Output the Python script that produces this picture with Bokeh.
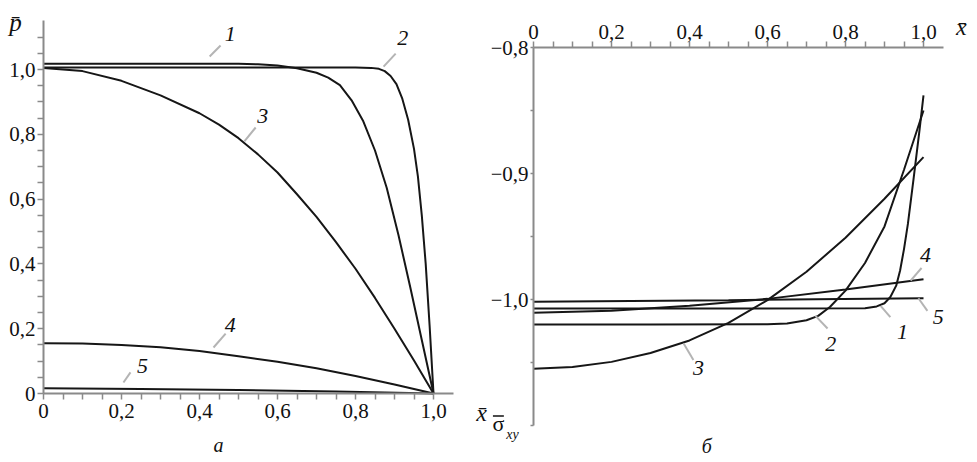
from bokeh.plotting import figure
from bokeh.layouts import row
from bokeh.models import Label, FixedTicker, CustomJSTickFormatter, Range1d, LinearAxis
from bokeh.embed import file_html
from bokeh.resources import INLINE

# ---------------- data: panel a (p-bar vs x-bar) ----------------
a1_x = [0, 0.2, 0.4, 0.5, 0.55, 0.6, 0.65, 0.7, 0.73, 0.76, 0.79, 0.82, 0.85, 0.88, 0.91, 0.94, 0.97, 1.0]
a1_y = [1.018, 1.018, 1.018, 1.018, 1.016, 1.012, 1.004, 0.99, 0.975, 0.952, 0.905, 0.84, 0.75, 0.635, 0.49, 0.33, 0.165, 0.0]
a2_x = [0, 0.4, 0.8, 0.84, 0.86, 0.875, 0.89, 0.905, 0.92, 0.935, 0.95, 0.96, 0.97, 0.98, 0.99, 1.0]
a2_y = [1.006, 1.006, 1.006, 1.005, 1.002, 0.995, 0.98, 0.955, 0.91, 0.845, 0.755, 0.67, 0.55, 0.4, 0.21, 0.0]
a3_x = [0, 0.1, 0.2, 0.3, 0.4, 0.45, 0.5, 0.55, 0.6, 0.65, 0.7, 0.75, 0.8, 0.85, 0.9, 0.95, 1.0]
a3_y = [1.005, 0.995, 0.965, 0.92, 0.865, 0.83, 0.788, 0.738, 0.682, 0.615, 0.545, 0.467, 0.385, 0.295, 0.2, 0.102, 0.0]
a4_x = [0, 0.1, 0.2, 0.3, 0.4, 0.5, 0.6, 0.7, 0.8, 0.9, 1.0]
a4_y = [0.155, 0.154, 0.150, 0.143, 0.131, 0.115, 0.098, 0.078, 0.054, 0.028, 0.0]
a5_x = [0, 0.25, 0.5, 0.75, 1.0]
a5_y = [0.016, 0.014, 0.011, 0.006, 0.0]

# ---------------- data: panel b (sigma_xy vs x-bar) ----------------
b1_x = [0, 0.5, 0.85, 0.88, 0.9, 0.915, 0.93, 0.94, 0.95, 0.96, 0.975, 0.99, 1.0]
b1_y = [-1.0072, -1.0072, -1.007, -1.0055, -1.003, -0.998, -0.989, -0.977, -0.96, -0.94, -0.903, -0.865, -0.838]
b2_x = [0, 0.3, 0.6, 0.65, 0.7, 0.73, 0.76, 0.8, 0.85, 0.9, 0.95, 1.0]
b2_y = [-1.0198, -1.0198, -1.0196, -1.019, -1.0165, -1.013, -1.006, -0.993, -0.971, -0.942, -0.897, -0.85]
b3_x = [0, 0.1, 0.2, 0.3, 0.4, 0.5, 0.6, 0.7, 0.8, 0.9, 1.0]
b3_y = [-1.055, -1.0535, -1.0495, -1.0425, -1.0325, -1.0185, -1.0005, -0.978, -0.951, -0.92, -0.887]
b4_x = [0, 0.2, 0.4, 0.6, 0.8, 1.0]
b4_y = [-1.0105, -1.009, -1.005, -0.9995, -0.992, -0.984]
b5_x = [0, 0.5, 1.0]
b5_y = [-1.0017, -1.0005, -0.999]

curve_names = ["1", "2", "3", "4", "5"]
x_major = [0, 0.2, 0.4, 0.6, 0.8, 1.0]
x_minor = [0.05, 0.1, 0.15, 0.25, 0.3, 0.35, 0.45, 0.5, 0.55, 0.65, 0.7, 0.75, 0.85, 0.9, 0.95]
a_y_major = [0, 0.2, 0.4, 0.6, 0.8, 1.0]
a_y_minor = [0.05, 0.1, 0.15, 0.25, 0.3, 0.35, 0.45, 0.5, 0.55, 0.65, 0.7, 0.75, 0.85, 0.9, 0.95, 1.05, 1.1]
b_y_major = [-0.8, -0.9, -1.0]
b_y_minor = [-0.85, -0.95, -1.05, -1.1]

# ---------------- styling ----------------
SERIF = "Liberation Serif, serif"
AXIS_GRAY = "#8a8a8a"
CURVE = "#161616"
POINTER = "#b4b4b4"
H = 460

fmt_code = """
if (Math.abs(tick) < 1e-9) { return "0"; }
var s = Math.abs(tick).toFixed(1).replace(".", ",");
return (tick < 0 ? "\\u2212" : "") + s;
"""


def make_axis(ticks, minor, loc, bounds, tick_out=6, standoff=3):
    ax = LinearAxis(fixed_location=loc, bounds=bounds)
    ax.ticker = FixedTicker(ticks=ticks, minor_ticks=minor)
    ax.formatter = CustomJSTickFormatter(code=fmt_code)
    ax.axis_line_color = AXIS_GRAY
    ax.axis_line_width = 2
    ax.major_tick_line_color = AXIS_GRAY
    ax.minor_tick_line_color = AXIS_GRAY
    ax.major_tick_line_width = 1.5
    ax.minor_tick_line_width = 1.5
    ax.major_tick_out = tick_out
    ax.major_tick_in = 0
    ax.minor_tick_out = tick_out
    ax.minor_tick_in = 0
    ax.major_label_text_font = SERIF
    ax.major_label_text_font_size = "21px"
    ax.major_label_text_color = "#111111"
    ax.major_label_standoff = standoff
    return ax


def add_label(p, x, y, text, size="22px", style="italic", align="center"):
    p.add_layout(Label(x=x, y=y, text=text, text_font=SERIF, text_font_size=size,
                       text_font_style=style, text_align=align, text_baseline="middle",
                       text_color="#111111"))


def base_fig(width, xr, yr):
    p = figure(width=width, height=H, x_range=Range1d(*xr), y_range=Range1d(*yr),
               output_backend="svg", toolbar_location=None,
               x_axis_location=None, y_axis_location=None,
               min_border=0, min_border_left=0, min_border_right=0,
               min_border_top=0, min_border_bottom=0)
    p.outline_line_color = None
    p.xgrid.visible = False
    p.ygrid.visible = False
    p.background_fill_color = "white"
    p.border_fill_color = "white"
    return p


# ---------------- panel a ----------------
# canvas: x = 0 at 43 px, 390 px per unit; y = 0 at 393 px, 324 px per unit
W1 = 491
p1 = base_fig(W1, (-43 / 390, (W1 - 43) / 390), (-(H - 393) / 324, 393 / 324))
p1.add_layout(make_axis(x_major, x_minor, 0, (0, 1.05), standoff=4), "below")
p1.add_layout(make_axis(a_y_major, a_y_minor, 0, (0, 1.15), standoff=2), "left")

for xs, ys in [(a1_x, a1_y), (a2_x, a2_y), (a3_x, a3_y), (a4_x, a4_y), (a5_x, a5_y)]:
    p1.line(xs, ys, line_color=CURVE, line_width=2)

a_lab_pos = [(0.479, 1.111), (0.921, 1.096), (0.562, 0.858), (0.479, 0.210), (0.254, 0.086)]
a_ptr = [(0.426, 1.040, 0.454, 1.074), (0.872, 1.009, 0.903, 1.049), (0.515, 0.778, 0.544, 0.821),
         (0.436, 0.142, 0.467, 0.185), (0.205, 0.034, 0.223, 0.065)]
p1.segment([s[0] for s in a_ptr], [s[1] for s in a_ptr], [s[2] for s in a_ptr], [s[3] for s in a_ptr],
           line_color=POINTER, line_width=2)
for name, (lx, ly) in zip(curve_names, a_lab_pos):
    add_label(p1, lx, ly, name)

add_label(p1, -0.072, 1.145, "p\u0304", size="25px")
add_label(p1, 1.123, -0.059, "x\u0304", size="24px")
add_label(p1, 0.449, -0.16, "\u0430", size="20px")

# ---------------- panel b ----------------
# canvas: x = 0 at 42 px, 390 px per unit; y = -0.8 at 47 px, 1260 px per unit
W2 = 484
p2 = base_fig(W2, (-42 / 390, (W2 - 42) / 390), (-0.8 - (H - 47) / 1260, -0.8 + 47 / 1260))
p2.add_layout(make_axis(x_major, x_minor, -0.8, (0, 1.05)), "above")
p2.add_layout(make_axis(b_y_major, b_y_minor, 0, (-1.1, -0.8), tick_out=3, standoff=2), "left")

for xs, ys in [(b1_x, b1_y), (b2_x, b2_y), (b3_x, b3_y), (b4_x, b4_y), (b5_x, b5_y)]:
    p2.line(xs, ys, line_color=CURVE, line_width=2)

b_lab_pos = [(0.946, -1.026), (0.762, -1.035), (0.423, -1.054), (1.005, -0.965), (1.038, -1.014)]
b_ptr = [(0.890, -1.005, 0.915, -1.014), (0.723, -1.013, 0.754, -1.023), (0.385, -1.035, 0.410, -1.048),
         (0.967, -0.985, 0.995, -0.975), (0.987, -0.999, 1.010, -1.009)]
p2.segment([s[0] for s in b_ptr], [s[1] for s in b_ptr], [s[2] for s in b_ptr], [s[3] for s in b_ptr],
           line_color=POINTER, line_width=2)
for name, (lx, ly) in zip(curve_names, b_lab_pos):
    add_label(p2, lx, ly, name)

add_label(p2, 1.097, -0.784, "x\u0304", size="24px")
add_label(p2, -0.09, -1.0985, "\u03c3", size="22px", style="normal")
p2.segment([-0.104], [-1.0925], [-0.076], [-1.0925], line_color="#111111", line_width=1.5)
add_label(p2, -0.054, -1.107, "xy", size="14px")
add_label(p2, 0.444, -1.1165, "\u0431", size="20px")

layout = row(p1, p2)
open("out.html", "w").write(file_html(layout, INLINE))
